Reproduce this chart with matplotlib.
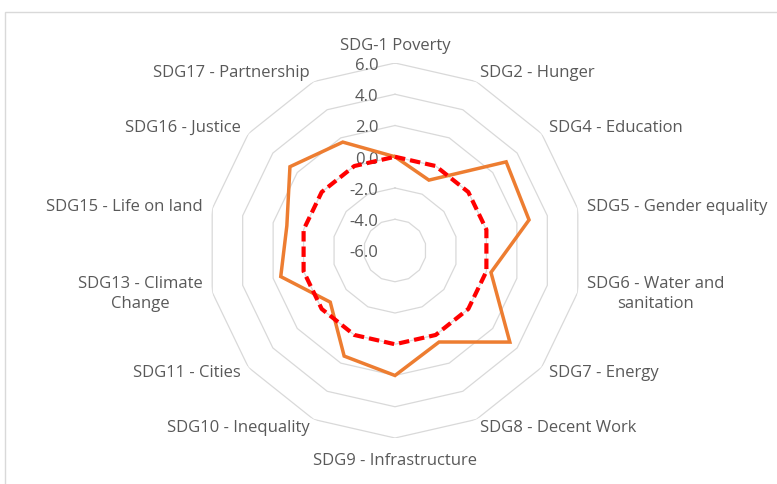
import numpy as np
import matplotlib
matplotlib.use("Agg")
import matplotlib.pyplot as plt
from matplotlib.patches import Rectangle

plt.rcParams["font.family"] = ["Open Sans", "DejaVu Sans"]

CATEGORIES = [
    "SDG-1 Poverty", "SDG2 - Hunger", "SDG4 - Education", "SDG5 - Gender equality",
    "SDG6 - Water and\nsanitation", "SDG7 - Energy", "SDG8 - Decent Work",
    "SDG9 - Infrastructure", "SDG10 - Inequality", "SDG11 - Cities",
    "SDG13 - Climate\nChange", "SDG15 - Life on land", "SDG16 - Justice",
    "SDG17 - Partnership",
]
SCORES = [0.0, -1.0, 3.1, 2.8, 0.3, 3.4, 0.5, 2.0, 1.5, -0.7, 1.5, 1.1, 2.6, 1.7]
BASELINE = [0.0] * 14
RING_VALUES = [-4, -2, 0, 2, 4, 6]
TICK_VALUES = [6, 4, 2, 0, -2, -4, -6]
R_MIN, R_MAX = -6, 6

TEXT_COLOR = "#595959"
GRID_COLOR = "#D9D9D9"
ORANGE = "#ED7D31"
RED = "#FF0000"

W, H = 777, 484
fig = plt.figure(figsize=(W / 100, H / 100), dpi=100)

# chart frame (cut off on the right and bottom)
fig.patches.append(Rectangle((5 / W, -0.1), 1.2, (H - 12) / H + 0.1,
                             transform=fig.transFigure, fill=False,
                             edgecolor=GRID_COLOR, linewidth=1.0))

cx, cy, rad = 395, 250.5, 187.5
ax = fig.add_axes([(cx - rad) / W, (H - cy - rad) / H, 2 * rad / W, 2 * rad / H],
                  projection="polar")
ax.set_theta_zero_location("N")
ax.set_theta_direction(-1)
ax.set_ylim(R_MIN, R_MAX)
ax.grid(False)
ax.spines["polar"].set_visible(False)
ax.set_xticks([])
ax.set_yticks([])
ax.patch.set_alpha(0)

n = len(CATEGORIES)
angles = np.linspace(0, 2 * np.pi, n, endpoint=False)
closed = np.append(angles, angles[0])

# polygon gridlines
for v in RING_VALUES:
    ax.plot(closed, [v] * (n + 1), color=GRID_COLOR, linewidth=0.9, zorder=1)

ax.plot(closed, SCORES + SCORES[:1], color=ORANGE, linewidth=2.5, zorder=3,
        solid_joinstyle="miter")
ax.plot(closed, BASELINE + BASELINE[:1], color=RED, linewidth=3.0, zorder=4,
        linestyle=(0, (2.5, 1.2)))

# value axis labels along the top spoke
for v in TICK_VALUES:
    ax.annotate(f"{v:.1f}", xy=(0, v), xytext=(-12, -2), textcoords="offset points",
                ha="right", va="center", fontsize=12, color=TEXT_COLOR, zorder=2)

# category labels outside the outer ring
for ang, label in zip(angles, CATEGORIES):
    deg = np.degrees(ang)
    pad = 0.6
    if np.isclose(deg, 0):
        ha, va = "center", "bottom"
    elif np.isclose(deg, 180):
        ha, va = "center", "top"
        pad = 0.95
    elif deg < 180:
        ha, va = "left", "center"
    else:
        ha, va = "right", "center"
    ax.text(ang, R_MAX + pad, label, ha=ha, va=va, multialignment="center",
            fontsize=12, color=TEXT_COLOR, linespacing=1.35)

fig.savefig("out.png", dpi=100)
